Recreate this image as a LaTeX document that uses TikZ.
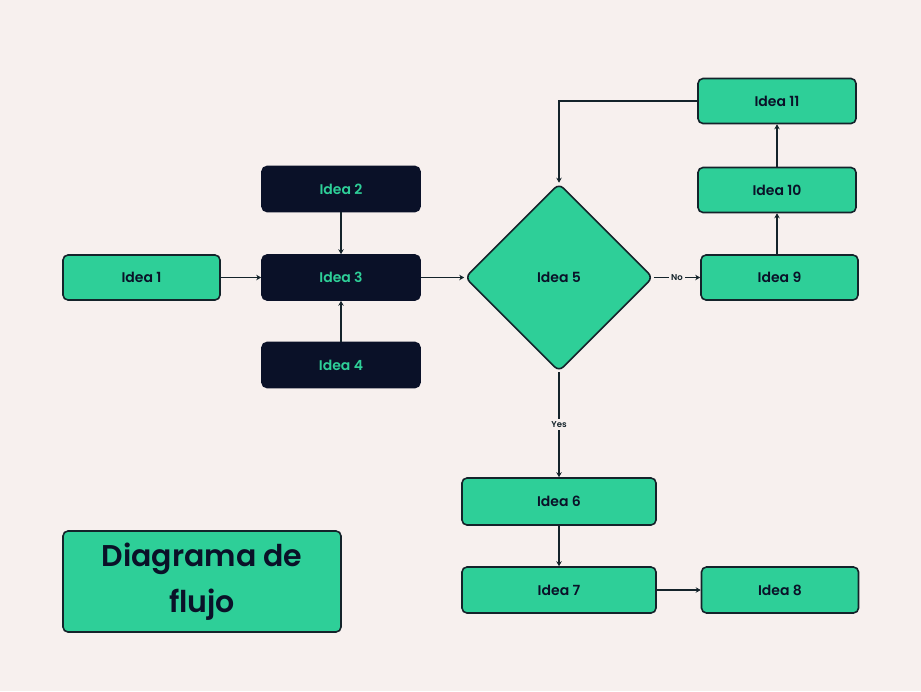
\documentclass[tikz,border=0pt]{standalone}
\usepackage{fontspec}
\setmainfont{Poppins}[BoldFont={Poppins SemiBold}]
\usetikzlibrary{shapes.geometric,arrows.meta}
\definecolor{bg}{HTML}{F7F0EE}
\definecolor{grn}{HTML}{2ECF98}
\definecolor{navy}{HTML}{0A1128}
\definecolor{ink}{HTML}{14232A}
\tikzset{
  box/.style={draw=ink, line width=1.6pt, rounded corners=5pt, fill=grn, text=navy,
    minimum width=157pt, minimum height=45pt, font=\bfseries\fontsize{14}{16}\selectfont, inner sep=0pt},
  darkbox/.style={box, fill=navy, draw=navy, text=grn},
  dia/.style={diamond, draw=ink, line width=1.6pt, rounded corners=6pt, fill=grn, text=navy,
    minimum width=188pt, minimum height=188pt, inner sep=0pt, aspect=1, font=\bfseries\fontsize{14}{16}\selectfont},
  conn/.style={draw=ink, line width=1.5pt, -{Stealth[length=5pt,width=5.5pt]}},
  lbl/.style={fill=bg, text=ink, font=\bfseries\fontsize{8.5}{10}\selectfont, inner sep=2.5pt}
}
\begin{document}
\begin{tikzpicture}[x=1pt,y=-1pt]
\fill[bg] (0,0) rectangle (921,691);
\useasboundingbox (0,0) rectangle (921,691);
\node[box] (i1) at (141.5,277.5) {Idea 1};
\node[darkbox, minimum width=158pt] (i2) at (341,189) {Idea 2};
\node[darkbox, minimum width=158pt] (i3) at (341,277.5) {Idea 3};
\node[darkbox, minimum width=158pt] (i4) at (341,365) {Idea 4};
\node[dia] (i5) at (559,277.5) {Idea 5};
\node[box] (i9) at (779.5,277.5) {Idea 9};
\node[box, minimum width=158pt] (i10) at (777,190) {Idea 10};
\node[box, minimum width=158pt] (i11) at (777,101) {Idea 11};
\node[box, minimum width=194pt, minimum height=47pt] (i6) at (559,501.5) {Idea 6};
\node[box, minimum width=194pt, minimum height=46pt] (i7) at (559,590) {Idea 7};
\node[box, minimum height=46pt] (i8) at (780,590) {Idea 8};
\node[box, minimum width=278pt, minimum height=101pt, align=center,
  font=\bfseries\fontsize{30}{46}\selectfont] (t) at (202,581.5) {Diagrama de\\flujo};
\draw[conn] (i1) -- (i3);
\draw[conn] (i2) -- (i3);
\draw[conn] (i4) -- (i3);
\draw[conn] (i3) -- (i5);
\draw[conn] (i5) -- node[lbl]{No} (i9);
\draw[conn] (i9.north -| i10.south) -- (i10.south);
\draw[conn] (i10) -- (i11);
\draw[conn] (i11.west) -| (i5.north);
\draw[conn] (i5) -- node[lbl]{Yes} (i6);
\draw[conn] (i6) -- (i7);
\draw[conn] (i7) -- (i8);
\end{tikzpicture}
\end{document}
